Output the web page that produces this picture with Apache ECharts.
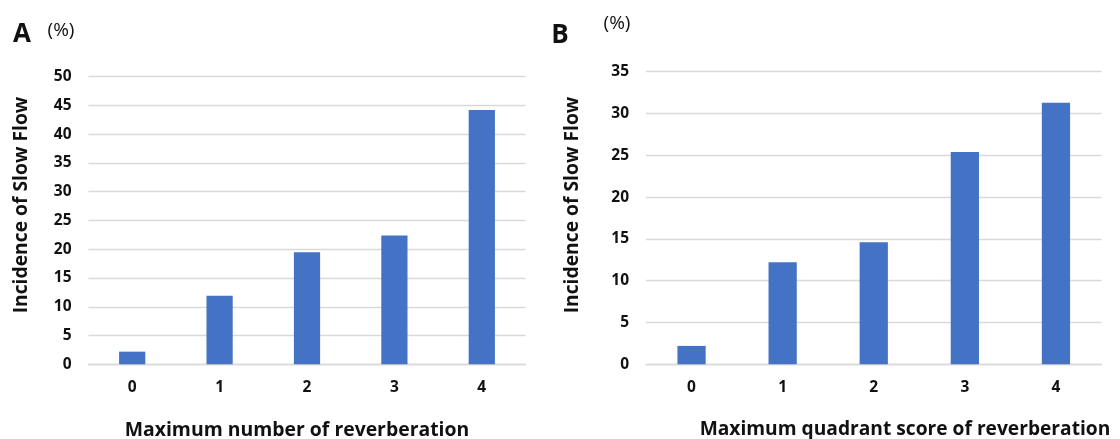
<!DOCTYPE html>
<html><head><meta charset="utf-8">
<script src="https://cdn.jsdelivr.net/npm/echarts@6/dist/echarts.min.js"></script>
<style>html,body{margin:0;padding:0;background:#fff}#c{width:1120px;height:439px}</style>
</head><body><div id="c"></div>
<script>
const categories = ['0', '1', '2', '3', '4'];
const valuesA = [2.2, 11.9, 19.5, 22.4, 44.2];
const valuesB = [2.2, 12.2, 14.6, 25.4, 31.3];
const ticksA = { min: 0, max: 50, interval: 5 };
const ticksB = { min: 0, max: 35, interval: 5 };
const xTitleA = 'Maximum number of reverberation';
const xTitleB = 'Maximum quadrant score of reverberation';
const yTitle = 'Incidence of Slow Flow';

const FONT = 'Open Sans';
const barColor = '#4472C4';
const gridColor = '#d9d9d9';

function xAxis(idx) {
  return {
    type: 'category', gridIndex: idx, data: categories,
    axisLine: { lineStyle: { color: gridColor, width: 1.3 } },
    axisTick: { show: false },
    axisLabel: { color: '#111', fontFamily: FONT, fontWeight: 'bold', fontSize: 15.5, margin: 15 }
  };
}
function yAxis(idx, t) {
  return {
    type: 'value', gridIndex: idx, min: t.min, max: t.max, interval: t.interval,
    axisLine: { show: false }, axisTick: { show: false },
    splitLine: { lineStyle: { color: gridColor, width: 1.3 } },
    axisLabel: { color: '#111', fontFamily: FONT, fontWeight: 'bold', fontSize: 15.5, margin: 17 }
  };
}
function txt(text, x, y, size, weight, rot) {
  return { type: 'text', x: x, y: y, rotation: rot || 0,
    style: { text: text, fontFamily: FONT, fontWeight: weight, fontSize: size, fill: '#111',
             align: 'center', verticalAlign: 'middle' } };
}

const chart = echarts.init(document.getElementById('c'), null, { renderer: 'canvas' });
chart.setOption({
  animation: false,
  backgroundColor: '#fff',
  grid: [
    { left: 88.5, right: 594.5, top: 76.7, bottom: 74.7 },
    { left: 646, right: 18.5, top: 71.7, bottom: 74.7 }
  ],
  xAxis: [xAxis(0), xAxis(1)],
  yAxis: [yAxis(0, ticksA), yAxis(1, ticksB)],
  series: [
    { type: 'bar', xAxisIndex: 0, yAxisIndex: 0, data: valuesA, barWidth: '30%', itemStyle: { color: barColor } },
    { type: 'bar', xAxisIndex: 1, yAxisIndex: 1, data: valuesB, barWidth: '31%', itemStyle: { color: barColor } }
  ],
  graphic: [
    txt('A', 22, 35, 26, 'bold'),
    txt('(%)', 61, 31, 19, 'normal'),
    txt('B', 560, 36, 26, 'bold'),
    txt('(%)', 617, 24, 19, 'normal'),
    txt(yTitle, 21.5, 205, 19.3, 'bold', Math.PI / 2),
    txt(yTitle, 572.5, 205, 19.3, 'bold', Math.PI / 2),
    txt(xTitleA, 297, 430, 19.4, 'bold'),
    txt(xTitleB, 905, 430, 19.2, 'bold')
  ]
});
</script></body></html>
